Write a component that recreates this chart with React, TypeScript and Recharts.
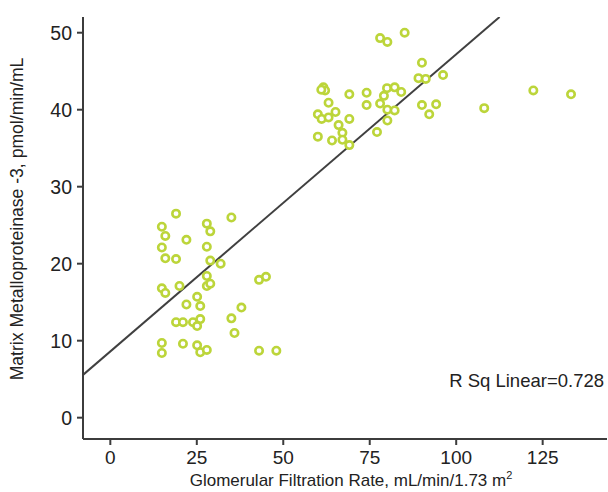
import React from 'react';
import { ScatterChart, Scatter, XAxis, YAxis, ReferenceLine, Label } from 'recharts';

const gfr = [
  19.0, 14.9, 27.9, 35.0, 15.9, 28.9, 22.0, 14.9, 27.9, 15.9, 19.0, 28.9, 31.9, 27.9, 27.9, 28.9, 14.9, 15.9, 20.0, 43.0,
  45.0, 25.1, 22.0, 26.0, 37.9, 19.0, 21.0, 23.9, 26.0, 25.1, 35.0, 35.9, 14.9, 14.9, 21.0, 25.1, 26.0, 27.9, 43.0, 48.0,
  78.0, 80.1, 85.1, 90.1, 89.1, 91.2, 96.2, 61.6, 62.1, 61.0, 63.1, 69.1, 74.1, 74.1, 80.0, 82.2, 84.1, 79.1, 78.0, 80.1,
  82.2, 90.1, 94.2, 92.2, 60.0, 61.1, 63.1, 65.1, 69.1, 80.1, 66.0, 67.1, 67.1, 60.0, 64.1, 69.1, 77.1, 108.1, 122.3, 133.2,
];
const mmp3 = [
  26.5, 24.8, 25.2, 26.0, 23.6, 24.2, 23.1, 22.1, 22.2, 20.7, 20.6, 20.4, 20.0, 18.4, 17.1, 17.4, 16.8, 16.2, 17.1, 17.9,
  18.3, 15.7, 14.7, 14.5, 14.3, 12.4, 12.4, 12.4, 12.8, 11.9, 12.9, 11.0, 9.7, 8.4, 9.6, 9.4, 8.5, 8.8, 8.7, 8.7,
  49.3, 48.8, 50.0, 46.1, 44.1, 44.0, 44.5, 42.9, 42.5, 42.6, 40.9, 42.0, 42.2, 40.6, 42.8, 42.9, 42.3, 41.8, 40.8, 40.0,
  39.9, 40.6, 40.7, 39.4, 39.4, 38.8, 39.0, 39.7, 38.8, 38.6, 38.0, 37.0, 36.1, 36.5, 36.0, 35.4, 37.1, 40.2, 42.5, 42.0,
];
const xTicks = [0, 25, 50, 75, 100, 125];
const yTicks = [0, 10, 20, 30, 40, 50];
const xDomain = [-7.9, 143.6];
const yDomain = [-2.77, 52.04];
const fitIntercept = 8.6;
const fitSlope = 0.386;
const rSqText = 'R Sq Linear=0.728';
const xTitle = 'Glomerular Filtration Rate, mL/min/1.73 m';
const xTitleSup = '2';
const yTitle = 'Matrix Metalloproteinase -3, pmol/min/mL';

const data = gfr.map((x, i) => ({ x, y: mmp3[i] }));
const fitX0 = xDomain[0];
const fitX1 = (yDomain[1] - fitIntercept) / fitSlope;
const segment = [
  { x: fitX0, y: fitIntercept + fitSlope * fitX0 },
  { x: fitX1, y: fitIntercept + fitSlope * fitX1 },
];

const FONT = "'Liberation Sans', Arial, Helvetica, sans-serif";
const AXIS = '#3c3c3c';
const TEXT = '#222222';
const DOT = '#bcd53a';

const Ring = (props: any) => {
  const { cx, cy } = props;
  if (cx == null || cy == null) return null;
  return <circle cx={cx} cy={cy} r={3.7} fill="#ffffff" stroke={DOT} strokeWidth={2.6} />;
};

const XTitle = () => (
  <text x={351} y={486} textAnchor="middle" fontFamily={FONT} fontSize={17} fill={TEXT}>
    {xTitle}
    <tspan dy={-7} fontSize={11}>{xTitleSup}</tspan>
  </text>
);

const YTitle = () => (
  <text
    x={17}
    y={219}
    transform="rotate(-90, 17, 219)"
    textAnchor="middle"
    dominantBaseline="central"
    fontFamily={FONT}
    fontSize={17.6}
    fill={TEXT}
  >
    {yTitle}
  </text>
);

export default function App() {
  return (
    <div style={{ position: 'absolute', left: 0, top: 0, width: 608, height: 492, background: '#fff' }}>
      <ScatterChart width={608} height={492} margin={{ top: 17, right: 1, bottom: 0, left: 0 }}>
        <XAxis
          type="number"
          dataKey="x"
          domain={xDomain}
          ticks={xTicks}
          allowDataOverflow
          height={53}
          axisLine={{ stroke: AXIS, strokeWidth: 2 }}
          tickLine={{ stroke: AXIS, strokeWidth: 2 }}
          tickSize={6}
          tickMargin={6}
          tick={{ fill: TEXT, fontSize: 19, fontFamily: FONT }}
        >
          <Label content={<XTitle />} />
        </XAxis>
        <YAxis
          type="number"
          dataKey="y"
          domain={yDomain}
          ticks={yTicks}
          allowDataOverflow
          width={83}
          axisLine={{ stroke: AXIS, strokeWidth: 2 }}
          tickLine={{ stroke: AXIS, strokeWidth: 2 }}
          tickSize={6}
          tickMargin={5}
          tick={{ fill: TEXT, fontSize: 19.5, fontFamily: FONT }}
        >
          <Label content={<YTitle />} />
        </YAxis>
        <Scatter data={data} shape={<Ring />} isAnimationActive={false} />
        <ReferenceLine segment={segment} stroke="#404040" strokeWidth={2} ifOverflow="hidden" />
      </ScatterChart>
      <div
        style={{
          position: 'absolute',
          right: 4,
          top: 370,
          fontFamily: FONT,
          fontSize: 18.5,
          color: TEXT,
          whiteSpace: 'nowrap',
          lineHeight: '22px',
        }}
      >
        {rSqText}
      </div>
    </div>
  );
}
